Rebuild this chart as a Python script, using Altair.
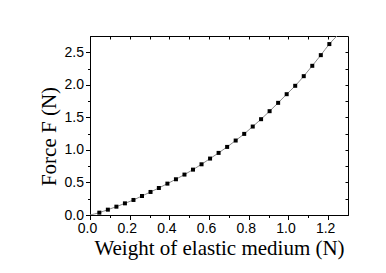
import altair as alt
import pandas as pd

# Data
weight = [0.047, 0.090, 0.133, 0.176, 0.219, 0.262, 0.305, 0.347, 0.390, 0.433,
          0.476, 0.519, 0.562, 0.605, 0.648, 0.691, 0.734, 0.777, 0.820, 0.862,
          0.905, 0.948, 0.991, 1.034, 1.077, 1.120, 1.163, 1.206]
force = [0.036, 0.082, 0.128, 0.179, 0.231, 0.292, 0.354, 0.415, 0.482, 0.549,
         0.621, 0.697, 0.779, 0.867, 0.954, 1.046, 1.144, 1.246, 1.359, 1.472,
         1.595, 1.723, 1.856, 1.985, 2.133, 2.292, 2.456, 2.626]
fit_weight = [0.0] + weight + [1.244]
fit_force = [0.0] + force + [2.75]

x_ticks = [0.0, 0.1, 0.2, 0.3, 0.4, 0.5, 0.6, 0.7, 0.8, 0.9, 1.0, 1.1, 1.2]
y_ticks = [0.0, 0.25, 0.5, 0.75, 1.0, 1.25, 1.5, 1.75, 2.0, 2.25, 2.5]

pts = pd.DataFrame({"w": weight, "f": force})
fit = pd.DataFrame({"w": fit_weight, "f": fit_force})

xs = alt.Scale(domain=[0, 1.3], nice=False, zero=False)
ys = alt.Scale(domain=[0, 2.75], nice=False, zero=False)

line = alt.Chart(fit).mark_line(color="#8a8a8a", strokeWidth=1, clip=True,
                                interpolate="monotone").encode(
    x=alt.X("w:Q", scale=xs, axis=alt.Axis(
        orient="top", offset=-3, values=x_ticks, tickSize=3, labels=False,
        domain=False, title=None, grid=False)),
    y=alt.Y("f:Q", scale=ys, axis=alt.Axis(
        orient="right", offset=-3, values=y_ticks, tickSize=3, labels=False,
        domain=False, title=None, grid=False)),
)

points = alt.Chart(pts).mark_square(size=16, color="black", opacity=1).encode(
    x=alt.X("w:Q", scale=xs, axis=alt.Axis(
        orient="bottom", values=x_ticks, grid=False,
        tickSize={"condition": {"test": "round(datum.value*10) % 2 == 1", "value": 2.5}, "value": 4.5},
        labelExpr="round(datum.value*10) % 2 == 0 ? format(datum.value, '.1f') : ''",
        labelOverlap=False, labelFlush=False, labelPadding=2, labelOffset=-3,
        title="Weight of elastic medium (N)", titleBaseline="alphabetic",
        titleX=129, titleY=39)),
    y=alt.Y("f:Q", scale=ys, axis=alt.Axis(
        orient="left", values=y_ticks, grid=False,
        tickSize={"condition": {"test": "round(datum.value*4) % 2 == 1", "value": 2.5}, "value": 4.5},
        labelExpr="round(datum.value*4) % 2 == 0 ? format(datum.value, '.1f') : ''",
        labelOverlap=False, labelFlush=False, labelPadding=2,
        title="Force F (N)", titleBaseline="alphabetic",
        titleX=-35, titleY=100)),
)

chart = alt.layer(line, points).resolve_axis(
    x="independent", y="independent"
).properties(
    width=258, height=179,
    autosize=alt.AutoSizeParams(type="none"),
    padding={"left": 82, "top": 28, "right": 30, "bottom": 50},
).configure_view(
    stroke="black", strokeWidth=1
).configure_axis(
    labelFont="Liberation Sans", labelFontSize=14, labelColor="black",
    titleFont="Liberation Serif", titleFontSize=21, titleFontWeight="normal",
    titleColor="black", tickColor="black", domainColor="black",
    domainWidth=1, tickWidth=1,
)

chart.save("out.html", embed_options={"renderer": "svg", "actions": False})
